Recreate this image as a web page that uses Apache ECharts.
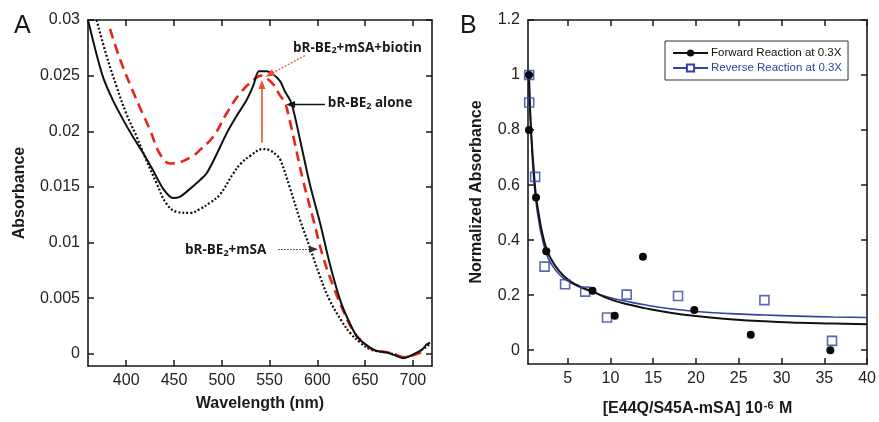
<!DOCTYPE html>
<html>
<head>
<meta charset="utf-8">
<script src="https://cdn.jsdelivr.net/npm/echarts@6/dist/echarts.min.js"></script>
<style>html,body{margin:0;padding:0;background:#fff}#c{width:879px;height:422px}</style>
</head>
<body>
<div id="c"></div>
<script>
// ---------- Panel A data (wavelength nm, absorbance) ----------
const aloneData = [[360,0.0300],[362,0.0293],[369,0.0269],[376,0.0248],[386,0.0228],[397,0.0210],[407,0.0195],[418,0.0180],[428,0.0165],[439,0.0148],[449,0.0140],[456,0.0141],[463,0.01455],[477,0.0156],[484,0.0162],[495,0.0180],[505,0.0198],[515,0.0213],[526,0.0228],[533,0.0241],[539,0.0254],[547,0.0254],[554,0.0251],[561,0.0245],[566,0.0236],[573,0.0225],[582,0.0192],[592,0.0153],[603,0.0117],[613,0.0081],[624,0.0048],[632,0.0031],[641,0.0016],[648,0.0010],[658,0.0004],[665,0.0002],[673,0.0001],[680,-0.0001],[690,-0.0004],[697,-0.0002],[704,0.0001],[710,0.0004],[714,0.0008],[718,0.0010]];
const biotinData = [[383,0.0292],[393,0.0266],[404,0.0242],[414,0.0222],[425,0.0201],[435,0.0180],[446,0.0171],[456,0.0172],[470,0.0178],[477,0.0183],[491,0.0195],[505,0.0216],[519,0.0234],[533,0.0246],[541,0.0250],[548,0.0247],[554,0.0242],[561,0.0232],[566,0.0226],[571,0.0210],[575,0.0195],[585,0.0156],[596,0.0120],[606,0.0087],[617,0.0060],[627,0.0039],[638,0.0020],[648,0.0010],[658,0.0004],[668,0.0002],[675,0.0001],[683,-0.0001],[690,-0.0003],[697,-0.0002],[705,0.0000],[714,0.0004]];
const msaData = [[369,0.0300],[379,0.0269],[390,0.0240],[400,0.0216],[411,0.0195],[421,0.0174],[432,0.0153],[442,0.0135],[453,0.01275],[467,0.01266],[477,0.0130],[488,0.0136],[498,0.0143],[512,0.0162],[520,0.0171],[530,0.0178],[543,0.0184],[550,0.0183],[558,0.0178],[561,0.0175],[571,0.0150],[582,0.0120],[592,0.0096],[603,0.0069],[613,0.0048],[625,0.0030],[635,0.0018],[645,0.0010],[655,0.0004],[665,0.0002],[673,0.0001],[683,-0.0001],[690,-0.0003],[697,-0.0002],[705,0.0001],[712,0.0005],[718,0.0009]];
const aXTicks = [400,450,500,550,600,650,700];
const aYTicks = [0,0.005,0.01,0.015,0.02,0.025,0.03];

// ---------- Panel B data ----------
const forwardX = [0.48,0.48,1.3,2.5,7.9,10.5,13.8,19.8,26.4,35.7];
const forwardY = [1.0,0.8,0.555,0.36,0.216,0.125,0.34,0.146,0.056,0.0];
const reverseX = [0.5,0.5,1.2,2.3,4.7,7.05,9.6,11.9,17.9,28.0,35.9];
const reverseY = [1.0,0.9,0.63,0.304,0.24,0.213,0.119,0.202,0.197,0.182,0.034];
const forwardFit = [[0.48,1.0],[0.6,0.88],[0.8,0.76],[1.0,0.67],[1.3,0.56],[1.7,0.48],[2.0,0.43],[2.5,0.37],[3.0,0.335],[4.0,0.288],[5.0,0.258],[6,0.238],[7,0.224],[8,0.212],[10,0.185],[12,0.167],[14,0.153],[17,0.136],[20,0.124],[24,0.113],[28,0.105],[32,0.1],[36,0.097],[40,0.094]];
const reverseFit = [[0.5,1.0],[0.6,0.88],[0.8,0.74],[1.0,0.64],[1.3,0.54],[1.7,0.455],[2.0,0.41],[2.5,0.352],[3,0.318],[4,0.276],[5,0.252],[6,0.235],[7,0.222],[8,0.21],[10,0.191],[12,0.177],[14,0.165],[17,0.151],[20,0.141],[24,0.133],[28,0.128],[32,0.124],[36,0.121],[40,0.119]];
const bXTicks = [5,10,15,20,25,30,35,40];
const bYTicks = [0,0.2,0.4,0.6,0.8,1,1.2];
const legendNames = ['Forward Reaction at 0.3X','Reverse Reaction at 0.3X'];

// ---------- annotations (data coordinates of panel A) ----------
const annoTexts = [
  {text:'bR-BE{s|2}+mSA+biotin', at:[574.5,0.0275]},
  {text:'bR-BE{s|2} alone', at:[611,0.0225]},
  {text:'bR-BE{s|2}+mSA', at:[461.5,0.0093]}
];

const FONT = 'Liberation Sans, Arial, sans-serif';
const BLUE = '#3242a0';
const RED = '#e8251d';
const INK = '#1a1a1a';

function pts(xs, ys){ return xs.map((x,i)=>[x, ys[i]]); }

function axisCommon(ticks, showLabels){
  return {
    splitLine:{show:false},
    axisLine:{show:true, onZero:false, lineStyle:{color:INK, width:1.6}},
    axisTick:{show:true, inside:true, length:6, customValues:ticks, lineStyle:{color:INK, width:1.5}},
    axisLabel: showLabels ? {show:true, customValues:ticks, color:'#222', fontSize:16, fontFamily:FONT} : {show:false},
  };
}

const chart = echarts.init(document.getElementById('c'), null, {renderer:'canvas'});

const option = {
  animation:false,
  backgroundColor:'#fff',
  grid:[
    {left:88, top:20, width:344, height:346},
    {left:528, top:20, width:343, height:344}
  ],
  xAxis:[
    Object.assign({gridIndex:0, type:'value', min:360, max:720, position:'bottom',
      name:'Wavelength (nm)', nameLocation:'middle', nameGap:30,
      nameTextStyle:{fontSize:16, fontWeight:'bold', color:INK, fontFamily:FONT}}, axisCommon(aXTicks,true),
      {axisLabel:{show:true, customValues:aXTicks, color:'#222', fontSize:16, fontFamily:FONT, margin:7}}),
    Object.assign({gridIndex:0, type:'value', min:360, max:720, position:'top'}, axisCommon(aXTicks,false)),
    Object.assign({gridIndex:1, type:'value', min:0.364, max:40, position:'bottom',
      name:'[E44Q/S45A-mSA] 10{sup|-6} M', nameLocation:'middle', nameGap:36,
      nameTextStyle:{fontSize:16, fontWeight:'bold', color:INK, fontFamily:FONT,
        rich:{sup:{fontSize:11, fontWeight:'bold', color:INK, fontFamily:FONT, verticalAlign:'top', padding:[0,1,6,1]}}}},
      axisCommon(bXTicks,true),
      {axisLabel:{show:true, customValues:bXTicks, color:'#222', fontSize:16, fontFamily:FONT, margin:7}}),
    Object.assign({gridIndex:1, type:'value', min:0.364, max:40, position:'top'}, axisCommon(bXTicks,false))
  ],
  yAxis:[
    Object.assign({gridIndex:0, type:'value', min:-0.0011, max:0.03, position:'left',
      name:'Absorbance', nameLocation:'middle', nameGap:60,
      nameTextStyle:{fontSize:16, fontWeight:'bold', color:INK, fontFamily:FONT}}, axisCommon(aYTicks,true),
      {axisLabel:{show:true, customValues:aYTicks, color:'#222', fontSize:16, fontFamily:FONT, margin:8}}),
    Object.assign({gridIndex:0, type:'value', min:-0.0011, max:0.03, position:'right'}, axisCommon(aYTicks,false)),
    Object.assign({gridIndex:1, type:'value', min:-0.05, max:1.2, position:'left',
      name:'Normalized Absorbance', nameLocation:'middle', nameGap:43,
      nameTextStyle:{fontSize:16, fontWeight:'bold', color:INK, fontFamily:FONT}}, axisCommon(bYTicks,true),
      {axisLabel:{show:true, customValues:bYTicks, color:'#222', fontSize:16, fontFamily:FONT, margin:8}}),
    Object.assign({gridIndex:1, type:'value', min:-0.05, max:1.2, position:'right'}, axisCommon(bYTicks,false))
  ],
  legend:{
    left:665, top:41, orient:'vertical',
    borderColor:'#333', borderWidth:1, padding:[6,6,6,7],
    itemWidth:35, itemHeight:9, itemGap:3,
    textStyle:{fontSize:11.5, fontFamily:FONT, padding:[0,0,0,-2]},
    data:[
      {name:legendNames[0], textStyle:{color:'#111'}},
      {name:legendNames[1], textStyle:{color:BLUE}}
    ],
    selectedMode:false
  },
  series:[
    {name:'bR-BE2+mSA', type:'line', xAxisIndex:0, yAxisIndex:0, data:msaData, smooth:0.4, showSymbol:false,
      lineStyle:{color:'#111', width:2.2, type:[2,2]}, z:3},
    {name:'bR-BE2+mSA+biotin', type:'line', xAxisIndex:0, yAxisIndex:0, data:biotinData, smooth:0.4, showSymbol:false,
      lineStyle:{color:RED, width:2.6, type:[10,6]}, z:3},
    {name:'bR-BE2 alone', type:'line', xAxisIndex:0, yAxisIndex:0, data:aloneData, smooth:0.3, showSymbol:false,
      lineStyle:{color:'#111', width:2}, z:4,
      markLine:{silent:true, animation:false, label:{show:false}, symbol:['none','triangle'], symbolSize:[7,9],
        data:[
          [{coord:[542,0.0190], lineStyle:{color:'#f24a33', width:1.6, type:'solid'}, symbol:'none'},{coord:[542,0.0242], symbol:'triangle'}],
          [{coord:[587,0.0268], lineStyle:{color:'#f24a33', width:1.2, type:[2,1.5]}, symbol:'none'},{coord:[550,0.0251], symbol:'triangle'}],
          [{coord:[608,0.0224], lineStyle:{color:'#111', width:1.3, type:'solid'}, symbol:'none'},{coord:[572,0.0224], symbol:'triangle'}],
          [{coord:[559,0.0094], lineStyle:{color:'#333', width:1.2, type:[1.5,1.5]}, symbol:'none'},{coord:[596,0.0094], symbol:'triangle'}]
        ]}},
    {name:legendNames[1], type:'line', xAxisIndex:2, yAxisIndex:2, data:reverseFit, smooth:true, showSymbol:false,
      symbol:'emptyRect', itemStyle:{color:BLUE}, lineStyle:{color:BLUE, width:1.6}, z:3},
    {name:legendNames[0], type:'line', xAxisIndex:2, yAxisIndex:2, data:forwardFit, smooth:true, showSymbol:false,
      symbol:'circle', itemStyle:{color:'#111'}, lineStyle:{color:'#111', width:2}, z:3},
    {name:'reversePts', type:'scatter', xAxisIndex:2, yAxisIndex:2, data:pts(reverseX,reverseY), symbol:'rect', symbolSize:9,
      itemStyle:{color:'rgba(0,0,0,0)', borderColor:BLUE, borderWidth:1.6}, z:4},
    {name:'forwardPts', type:'scatter', xAxisIndex:2, yAxisIndex:2, data:pts(forwardX,forwardY), symbol:'circle', symbolSize:8,
      itemStyle:{color:'#0a0a0a', opacity:1}, z:5}
  ]
};
chart.setOption(option);

// annotation texts anchored in data coordinates of panel A
const g = [
  {type:'text', left:14, top:14, style:{text:'A', fontSize:25, fontFamily:FONT, fill:INK}},
  {type:'text', left:460, top:14, style:{text:'B', fontSize:25, fontFamily:FONT, fill:INK}}
];
annoTexts.forEach(a=>{
  const p = chart.convertToPixel({xAxisIndex:0, yAxisIndex:0}, a.at);
  g.push({type:'text', x:p[0], y:p[1], style:{text:a.text, fontSize:13.5, fontWeight:'bold', fontFamily:'Open Sans, sans-serif', fill:INK,
    verticalAlign:'middle', align:'left',
    rich:{s:{fontSize:9, fontWeight:'bold', fontFamily:'Open Sans, sans-serif', fill:INK, verticalAlign:'bottom', padding:[6,0,0,0]}}}});
});
chart.setOption({graphic:g});
</script>
</body>
</html>
